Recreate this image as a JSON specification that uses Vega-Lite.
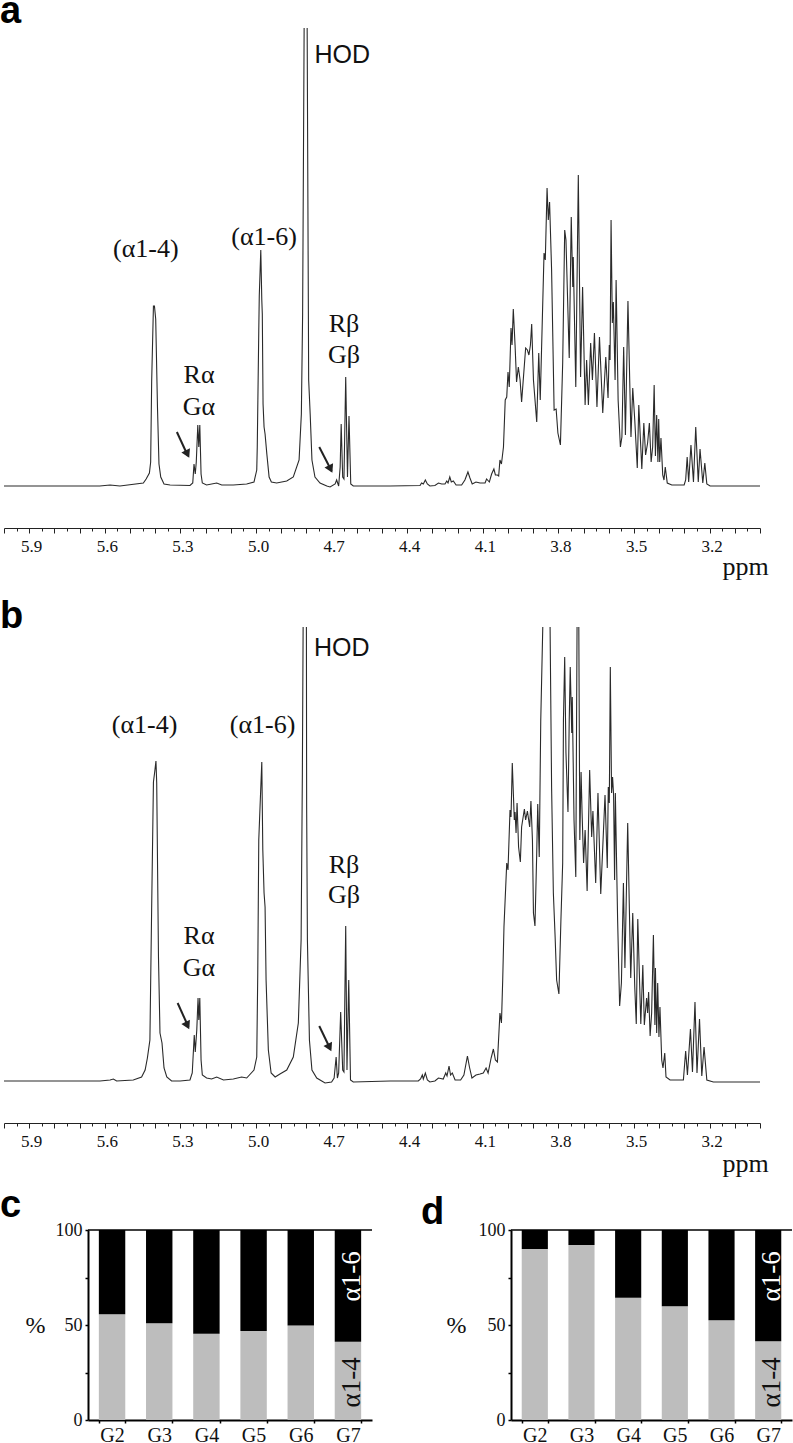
{"$schema":"https://vega.github.io/schema/vega-lite/v6.json","background":"white","padding":{"left":0,"top":-7,"right":0,"bottom":0},"config":{"view":{"stroke":null}},
"datasets":{
"specA":[{"ppm":6.0,"i":0},{"ppm":5.9,"i":0},{"ppm":5.75,"i":0},{"ppm":5.62,"i":0},{"ppm":5.579,"i":1},{"ppm":5.54,"i":0},{"ppm":5.447,"i":3},{"ppm":5.436,"i":7},{"ppm":5.423,"i":13},{"ppm":5.418,"i":24},{"ppm":5.414,"i":105},{"ppm":5.407,"i":180},{"ppm":5.403,"i":180},{"ppm":5.398,"i":167},{"ppm":5.391,"i":79},{"ppm":5.385,"i":22},{"ppm":5.378,"i":9},{"ppm":5.365,"i":2},{"ppm":5.341,"i":1},{"ppm":5.262,"i":0.5},{"ppm":5.251,"i":3},{"ppm":5.246,"i":22},{"ppm":5.241,"i":12},{"ppm":5.237,"i":24},{"ppm":5.231,"i":61},{"ppm":5.227,"i":39},{"ppm":5.223,"i":61},{"ppm":5.218,"i":12},{"ppm":5.213,"i":3},{"ppm":5.196,"i":1},{"ppm":5.156,"i":3},{"ppm":5.136,"i":1},{"ppm":5.09,"i":1},{"ppm":5.037,"i":2},{"ppm":5.008,"i":4},{"ppm":4.997,"i":16},{"ppm":4.995,"i":39},{"ppm":4.989,"i":155},{"ppm":4.987,"i":190},{"ppm":4.981,"i":236},{"ppm":4.977,"i":186},{"ppm":4.975,"i":172},{"ppm":4.972,"i":82},{"ppm":4.968,"i":59},{"ppm":4.964,"i":52},{"ppm":4.957,"i":32},{"ppm":4.948,"i":9},{"ppm":4.939,"i":4},{"ppm":4.918,"i":3},{"ppm":4.878,"i":5},{"ppm":4.852,"i":9},{"ppm":4.829,"i":26},{"ppm":4.82,"i":72},{"ppm":4.815,"i":172},{"ppm":4.809,"i":458},{"ppm":4.803,"i":null},{"ppm":4.797,"i":458},{"ppm":4.791,"i":106},{"ppm":4.785,"i":72},{"ppm":4.778,"i":26},{"ppm":4.766,"i":9},{"ppm":4.746,"i":3},{"ppm":4.719,"i":0},{"ppm":4.706,"i":-1},{"ppm":4.686,"i":2},{"ppm":4.68,"i":6},{"ppm":4.672,"i":0},{"ppm":4.666,"i":19},{"ppm":4.662,"i":62},{"ppm":4.656,"i":9},{"ppm":4.651,"i":7},{"ppm":4.644,"i":109},{"ppm":4.637,"i":9},{"ppm":4.631,"i":70},{"ppm":4.624,"i":2},{"ppm":4.614,"i":0},{"ppm":4.468,"i":0},{"ppm":4.349,"i":0.5},{"ppm":4.343,"i":3},{"ppm":4.336,"i":2},{"ppm":4.328,"i":6},{"ppm":4.32,"i":2},{"ppm":4.31,"i":0},{"ppm":4.29,"i":0.5},{"ppm":4.276,"i":3},{"ppm":4.263,"i":2},{"ppm":4.25,"i":2},{"ppm":4.243,"i":5},{"ppm":4.238,"i":3},{"ppm":4.231,"i":9},{"ppm":4.225,"i":4},{"ppm":4.217,"i":5},{"ppm":4.206,"i":1},{"ppm":4.184,"i":1},{"ppm":4.171,"i":6},{"ppm":4.159,"i":14},{"ppm":4.151,"i":8},{"ppm":4.142,"i":2},{"ppm":4.127,"i":4},{"ppm":4.111,"i":3},{"ppm":4.091,"i":3},{"ppm":4.085,"i":7},{"ppm":4.074,"i":4},{"ppm":4.065,"i":12},{"ppm":4.056,"i":17},{"ppm":4.05,"i":11},{"ppm":4.042,"i":11},{"ppm":4.037,"i":10},{"ppm":4.032,"i":26},{"ppm":4.026,"i":22},{"ppm":4.018,"i":39},{"ppm":4.011,"i":86},{"ppm":4.005,"i":89},{"ppm":4.0,"i":114},{"ppm":3.995,"i":99},{"ppm":3.988,"i":158},{"ppm":3.984,"i":141},{"ppm":3.979,"i":177},{"ppm":3.972,"i":141},{"ppm":3.966,"i":104},{"ppm":3.959,"i":119},{"ppm":3.952,"i":106},{"ppm":3.946,"i":84},{"ppm":3.93,"i":138},{"ppm":3.923,"i":136},{"ppm":3.917,"i":131},{"ppm":3.911,"i":141},{"ppm":3.906,"i":162},{"ppm":3.899,"i":106},{"ppm":3.886,"i":64},{"ppm":3.878,"i":133},{"ppm":3.872,"i":86},{"ppm":3.857,"i":233},{"ppm":3.852,"i":226},{"ppm":3.845,"i":298},{"ppm":3.84,"i":266},{"ppm":3.835,"i":284},{"ppm":3.827,"i":216},{"ppm":3.817,"i":76},{"ppm":3.809,"i":77},{"ppm":3.802,"i":53},{"ppm":3.792,"i":41},{"ppm":3.783,"i":123},{"ppm":3.775,"i":256},{"ppm":3.77,"i":246},{"ppm":3.757,"i":128},{"ppm":3.749,"i":269},{"ppm":3.743,"i":199},{"ppm":3.741,"i":229},{"ppm":3.731,"i":99},{"ppm":3.721,"i":311},{"ppm":3.712,"i":109},{"ppm":3.704,"i":199},{"ppm":3.694,"i":81},{"ppm":3.688,"i":126},{"ppm":3.681,"i":81},{"ppm":3.672,"i":143},{"ppm":3.665,"i":106},{"ppm":3.657,"i":153},{"ppm":3.647,"i":79},{"ppm":3.637,"i":149},{"ppm":3.624,"i":73},{"ppm":3.612,"i":129},{"ppm":3.603,"i":88},{"ppm":3.598,"i":141},{"ppm":3.595,"i":126},{"ppm":3.591,"i":266},{"ppm":3.586,"i":163},{"ppm":3.582,"i":184},{"ppm":3.575,"i":106},{"ppm":3.571,"i":206},{"ppm":3.563,"i":86},{"ppm":3.554,"i":39},{"ppm":3.548,"i":49},{"ppm":3.541,"i":139},{"ppm":3.534,"i":51},{"ppm":3.524,"i":185},{"ppm":3.512,"i":49},{"ppm":3.505,"i":98},{"ppm":3.497,"i":66},{"ppm":3.487,"i":18},{"ppm":3.481,"i":81},{"ppm":3.469,"i":17},{"ppm":3.461,"i":63},{"ppm":3.454,"i":31},{"ppm":3.446,"i":43},{"ppm":3.439,"i":63},{"ppm":3.432,"i":24},{"ppm":3.426,"i":39},{"ppm":3.42,"i":101},{"ppm":3.415,"i":30},{"ppm":3.41,"i":71},{"ppm":3.405,"i":24},{"ppm":3.402,"i":67},{"ppm":3.398,"i":24},{"ppm":3.393,"i":48},{"ppm":3.386,"i":11},{"ppm":3.381,"i":6},{"ppm":3.376,"i":19},{"ppm":3.368,"i":3},{"ppm":3.35,"i":1},{"ppm":3.301,"i":1},{"ppm":3.295,"i":6},{"ppm":3.289,"i":29},{"ppm":3.283,"i":4},{"ppm":3.274,"i":41},{"ppm":3.264,"i":4},{"ppm":3.255,"i":59},{"ppm":3.245,"i":4},{"ppm":3.238,"i":37},{"ppm":3.227,"i":3},{"ppm":3.219,"i":23},{"ppm":3.211,"i":2},{"ppm":3.198,"i":0},{"ppm":3.0,"i":0}],
"specB":[{"ppm":6.0,"i":0},{"ppm":5.85,"i":0},{"ppm":5.7,"i":0},{"ppm":5.619,"i":0},{"ppm":5.579,"i":1},{"ppm":5.566,"i":2},{"ppm":5.553,"i":0},{"ppm":5.487,"i":1},{"ppm":5.454,"i":4},{"ppm":5.44,"i":11},{"ppm":5.431,"i":23},{"ppm":5.421,"i":41},{"ppm":5.414,"i":174},{"ppm":5.407,"i":299},{"ppm":5.402,"i":309},{"ppm":5.397,"i":320},{"ppm":5.394,"i":298},{"ppm":5.387,"i":124},{"ppm":5.381,"i":48},{"ppm":5.373,"i":38},{"ppm":5.365,"i":13},{"ppm":5.354,"i":4},{"ppm":5.335,"i":0},{"ppm":5.301,"i":0},{"ppm":5.262,"i":1},{"ppm":5.253,"i":8},{"ppm":5.245,"i":46},{"ppm":5.241,"i":29},{"ppm":5.235,"i":51},{"ppm":5.23,"i":83},{"ppm":5.227,"i":61},{"ppm":5.223,"i":83},{"ppm":5.218,"i":21},{"ppm":5.213,"i":6},{"ppm":5.196,"i":3},{"ppm":5.176,"i":2},{"ppm":5.156,"i":4},{"ppm":5.129,"i":1},{"ppm":5.09,"i":2},{"ppm":5.057,"i":4},{"ppm":5.037,"i":3},{"ppm":5.008,"i":11},{"ppm":4.997,"i":24},{"ppm":4.993,"i":108},{"ppm":4.989,"i":241},{"ppm":4.984,"i":274},{"ppm":4.977,"i":319},{"ppm":4.973,"i":231},{"ppm":4.968,"i":188},{"ppm":4.964,"i":174},{"ppm":4.96,"i":101},{"ppm":4.951,"i":31},{"ppm":4.94,"i":8},{"ppm":4.924,"i":4},{"ppm":4.905,"i":7},{"ppm":4.878,"i":11},{"ppm":4.852,"i":24},{"ppm":4.832,"i":58},{"ppm":4.821,"i":141},{"ppm":4.816,"i":308},{"ppm":4.813,"i":454},{"ppm":4.806,"i":null},{"ppm":4.8,"i":454},{"ppm":4.799,"i":274},{"ppm":4.796,"i":141},{"ppm":4.788,"i":41},{"ppm":4.778,"i":11},{"ppm":4.759,"i":3},{"ppm":4.726,"i":-2},{"ppm":4.7,"i":-1},{"ppm":4.69,"i":3},{"ppm":4.682,"i":24},{"ppm":4.677,"i":3},{"ppm":4.672,"i":8},{"ppm":4.664,"i":69},{"ppm":4.656,"i":11},{"ppm":4.651,"i":9},{"ppm":4.644,"i":155},{"ppm":4.639,"i":11},{"ppm":4.632,"i":101},{"ppm":4.625,"i":1},{"ppm":4.614,"i":-1},{"ppm":4.468,"i":0},{"ppm":4.356,"i":0},{"ppm":4.347,"i":2},{"ppm":4.34,"i":6},{"ppm":4.336,"i":2},{"ppm":4.328,"i":8},{"ppm":4.32,"i":1},{"ppm":4.31,"i":-1},{"ppm":4.29,"i":0},{"ppm":4.276,"i":3},{"ppm":4.257,"i":2},{"ppm":4.247,"i":8},{"ppm":4.242,"i":5},{"ppm":4.234,"i":15},{"ppm":4.228,"i":6},{"ppm":4.221,"i":8},{"ppm":4.21,"i":1},{"ppm":4.188,"i":1},{"ppm":4.175,"i":6},{"ppm":4.161,"i":25},{"ppm":4.153,"i":14},{"ppm":4.143,"i":3},{"ppm":4.127,"i":6},{"ppm":4.111,"i":7},{"ppm":4.098,"i":8},{"ppm":4.087,"i":13},{"ppm":4.079,"i":8},{"ppm":4.067,"i":23},{"ppm":4.058,"i":32},{"ppm":4.05,"i":21},{"ppm":4.042,"i":19},{"ppm":4.032,"i":68},{"ppm":4.026,"i":58},{"ppm":4.021,"i":101},{"ppm":4.016,"i":154},{"ppm":4.005,"i":218},{"ppm":4.0,"i":211},{"ppm":3.992,"i":271},{"ppm":3.988,"i":264},{"ppm":3.983,"i":318},{"ppm":3.975,"i":261},{"ppm":3.972,"i":269},{"ppm":3.968,"i":248},{"ppm":3.964,"i":278},{"ppm":3.958,"i":234},{"ppm":3.951,"i":219},{"ppm":3.946,"i":254},{"ppm":3.935,"i":272},{"ppm":3.93,"i":261},{"ppm":3.923,"i":270},{"ppm":3.914,"i":254},{"ppm":3.909,"i":280},{"ppm":3.903,"i":241},{"ppm":3.899,"i":168},{"ppm":3.893,"i":155},{"ppm":3.886,"i":228},{"ppm":3.882,"i":277},{"ppm":3.876,"i":224},{"ppm":3.87,"i":361},{"ppm":3.862,"i":454},{"ppm":3.848,"i":null},{"ppm":3.833,"i":454},{"ppm":3.827,"i":294},{"ppm":3.82,"i":188},{"ppm":3.813,"i":144},{"ppm":3.807,"i":101},{"ppm":3.798,"i":87},{"ppm":3.79,"i":161},{"ppm":3.783,"i":218},{"ppm":3.78,"i":361},{"ppm":3.775,"i":424},{"ppm":3.77,"i":328},{"ppm":3.762,"i":269},{"ppm":3.757,"i":361},{"ppm":3.753,"i":414},{"ppm":3.747,"i":348},{"ppm":3.745,"i":384},{"ppm":3.738,"i":261},{"ppm":3.731,"i":204},{"ppm":3.726,"i":454},{"ppm":3.722,"i":null},{"ppm":3.719,"i":454},{"ppm":3.715,"i":241},{"ppm":3.71,"i":309},{"ppm":3.706,"i":268},{"ppm":3.7,"i":218},{"ppm":3.694,"i":251},{"ppm":3.686,"i":190},{"ppm":3.676,"i":311},{"ppm":3.668,"i":244},{"ppm":3.663,"i":270},{"ppm":3.652,"i":198},{"ppm":3.643,"i":288},{"ppm":3.632,"i":187},{"ppm":3.615,"i":286},{"ppm":3.606,"i":213},{"ppm":3.602,"i":294},{"ppm":3.598,"i":278},{"ppm":3.594,"i":414},{"ppm":3.589,"i":288},{"ppm":3.585,"i":304},{"ppm":3.581,"i":286},{"ppm":3.577,"i":201},{"ppm":3.574,"i":288},{"ppm":3.565,"i":161},{"ppm":3.557,"i":75},{"ppm":3.55,"i":98},{"ppm":3.542,"i":198},{"ppm":3.536,"i":113},{"ppm":3.525,"i":258},{"ppm":3.513,"i":103},{"ppm":3.505,"i":168},{"ppm":3.497,"i":94},{"ppm":3.491,"i":57},{"ppm":3.485,"i":162},{"ppm":3.473,"i":57},{"ppm":3.465,"i":116},{"ppm":3.459,"i":56},{"ppm":3.45,"i":83},{"ppm":3.446,"i":68},{"ppm":3.442,"i":89},{"ppm":3.436,"i":45},{"ppm":3.43,"i":68},{"ppm":3.423,"i":146},{"ppm":3.417,"i":56},{"ppm":3.415,"i":113},{"ppm":3.41,"i":48},{"ppm":3.406,"i":98},{"ppm":3.401,"i":44},{"ppm":3.397,"i":74},{"ppm":3.39,"i":21},{"ppm":3.385,"i":13},{"ppm":3.378,"i":28},{"ppm":3.373,"i":4},{"ppm":3.357,"i":1},{"ppm":3.304,"i":1},{"ppm":3.295,"i":30},{"ppm":3.288,"i":6},{"ppm":3.276,"i":52},{"ppm":3.268,"i":9},{"ppm":3.258,"i":79},{"ppm":3.25,"i":8},{"ppm":3.24,"i":62},{"ppm":3.231,"i":5},{"ppm":3.222,"i":34},{"ppm":3.211,"i":1},{"ppm":3.185,"i":-1},{"ppm":3.0,"i":-1}],
"arrowsA":[{"ppm":5.314,"i":54,"ppm2":5.27,"i2":30,"hx":5.272,"hy":32},{"ppm":4.749,"i":39,"ppm2":4.70,"i2":15,"hx":4.704,"hy":17}],
"arrowsB":[{"ppm":5.311,"i":78,"ppm2":5.268,"i2":54,"hx":5.272,"hy":55.5},{"ppm":4.749,"i":55,"ppm2":4.705,"i2":32,"hx":4.708,"hy":33.5}],
"textA":[{"ppm":5.437,"i":229,"t":"(α1-4)"},{"ppm":4.968,"i":241,"t":"(α1-6)"},{"ppm":5.226,"i":103,"t":"Rα"},{"ppm":5.226,"i":71,"t":"Gα"},{"ppm":4.651,"i":154,"t":"Rβ"},{"ppm":4.651,"i":123,"t":"Gβ"},{"ppm":3.057,"i":-89,"t":"ppm"}],
"textB":[{"ppm":5.442,"i":348,"t":"(α1-4)"},{"ppm":4.974,"i":348,"t":"(α1-6)"},{"ppm":5.226,"i":137,"t":"Rα"},{"ppm":5.226,"i":105,"t":"Gα"},{"ppm":4.651,"i":208,"t":"Rβ"},{"ppm":4.651,"i":178,"t":"Gβ"},{"ppm":3.057,"i":-91,"t":"ppm"}],
"hodA":[{"ppm":4.768,"i":423,"t":"HOD"}],
"hodB":[{"ppm":4.77,"i":425,"t":"HOD"}],
"barsC":[{"g":"G2","series":"α1-4","pct":55.6,"o":1},{"g":"G2","series":"α1-6","pct":44.4,"o":2},{"g":"G3","series":"α1-4","pct":50.9,"o":1},{"g":"G3","series":"α1-6","pct":49.1,"o":2},{"g":"G4","series":"α1-4","pct":45.4,"o":1},{"g":"G4","series":"α1-6","pct":54.6,"o":2},{"g":"G5","series":"α1-4","pct":46.8,"o":1},{"g":"G5","series":"α1-6","pct":53.2,"o":2},{"g":"G6","series":"α1-4","pct":49.8,"o":1},{"g":"G6","series":"α1-6","pct":50.2,"o":2},{"g":"G7","series":"α1-4","pct":41.2,"o":1},{"g":"G7","series":"α1-6","pct":58.8,"o":2}],
"barsD":[{"g":"G2","series":"α1-4","pct":90,"o":1},{"g":"G2","series":"α1-6","pct":10,"o":2},{"g":"G3","series":"α1-4","pct":92.1,"o":1},{"g":"G3","series":"α1-6","pct":7.9,"o":2},{"g":"G4","series":"α1-4","pct":64.4,"o":1},{"g":"G4","series":"α1-6","pct":35.6,"o":2},{"g":"G5","series":"α1-4","pct":59.9,"o":1},{"g":"G5","series":"α1-6","pct":40.1,"o":2},{"g":"G6","series":"α1-4","pct":52.5,"o":1},{"g":"G6","series":"α1-6","pct":47.5,"o":2},{"g":"G7","series":"α1-4","pct":41.5,"o":1},{"g":"G7","series":"α1-6","pct":58.5,"o":2}],
"barLabels":[{"g":"G7","y":75.6,"t":"α1-6","c":"white"},{"g":"G7","y":19.8,"t":"α1-4","c":"#111111"}],
"top":[{"y":100}]
},
"vconcat":[
{"vconcat":[
{"title":{"text":"a","anchor":"start","frame":"group","dx":-4,"offset":-33,"baseline":"alphabetic","font":"Liberation Sans","fontSize":38,"fontWeight":"bold","color":"#000000"},
"width":756,"height":500,
"layer":[
{"data":{"name":"specA"},"mark":{"type":"line","clip":true,"color":"#2a2a2a","strokeWidth":1.1},"encoding":{"x":{"field":"ppm","type":"quantitative","sort":null,"scale":{"domain":[6,3],"nice":false,"zero":false},"axis":{"orient":"bottom","values":[6,5.9,5.8,5.7,5.6,5.5,5.4,5.3,5.2,5.1,5,4.9,4.8,4.7,4.6,4.5,4.4,4.3,4.2,4.1,4,3.9,3.8,3.7,3.6,3.5,3.4,3.3,3.2,3.1,3],"labelExpr":"indexof(['5.9','5.6','5.3','5.0','4.7','4.4','4.1','3.8','3.5','3.2'],format(datum.value,'.1f'))>=0?format(datum.value,'.1f'):''","title":null,"grid":false,"tickSize":5,"tickColor":"#222222","domainColor":"#222222","labelFont":"Liberation Serif","labelFontSize":17,"labelColor":"#111111","labelPadding":5,"labelOffset":2,"labelOverlap":false,"labelFlush":false}},"y":{"field":"i","type":"quantitative","scale":{"domain":[-42,458],"nice":false,"zero":false},"axis":null},"order":{"value":null}}},
{"data":{"name":"arrowsA"},"mark":{"type":"rule","color":"#222222","strokeWidth":2},"encoding":{"x":{"field":"ppm","type":"quantitative","scale":{"domain":[6,3],"nice":false,"zero":false},"axis":{"orient":"bottom","values":[5.95,5.85,5.75,5.65,5.55,5.45,5.35,5.25,5.15,5.05,4.95,4.85,4.75,4.65,4.55,4.45,4.35,4.25,4.15,4.05,3.95,3.85,3.75,3.65,3.55,3.45,3.35,3.25,3.15,3.05],"labels":false,"domain":false,"title":null,"grid":false,"tickSize":3,"tickColor":"#222222"}},"x2":{"field":"ppm2"},"y":{"field":"i","type":"quantitative","scale":{"domain":[-42,458],"nice":false,"zero":false},"axis":null},"y2":{"field":"i2"}}},
{"data":{"name":"arrowsA"},"mark":{"type":"point","shape":"triangle-up","filled":true,"color":"#222222","size":90,"angle":154,"opacity":1},"encoding":{"x":{"field":"hx","type":"quantitative","axis":null,"scale":{"domain":[6,3],"nice":false,"zero":false}},"y":{"field":"hy","type":"quantitative","axis":null,"scale":{"domain":[-42,458],"nice":false,"zero":false}}}},
{"data":{"name":"textA"},"mark":{"type":"text","font":"Liberation Serif","fontSize":26,"color":"#111111","baseline":"alphabetic"},"encoding":{"x":{"field":"ppm","type":"quantitative","axis":null,"scale":{"domain":[6,3],"nice":false,"zero":false}},"y":{"field":"i","type":"quantitative","axis":null,"scale":{"domain":[-42,458],"nice":false,"zero":false}},"text":{"field":"t"}}},
{"data":{"name":"hodA"},"mark":{"type":"text","font":"Liberation Sans","fontSize":25,"color":"#111111","baseline":"alphabetic","align":"left"},"encoding":{"x":{"field":"ppm","type":"quantitative","axis":null,"scale":{"domain":[6,3],"nice":false,"zero":false}},"y":{"field":"i","type":"quantitative","axis":null,"scale":{"domain":[-42,458],"nice":false,"zero":false}},"text":{"field":"t"}}}
],"resolve":{"axis":{"x":"independent"}}},
{"title":{"text":"b","anchor":"start","frame":"group","dx":-4,"offset":-39,"baseline":"alphabetic","font":"Liberation Sans","fontSize":38,"fontWeight":"bold","color":"#000000"},
"width":756,"height":496,
"layer":[
{"data":{"name":"specB"},"mark":{"type":"line","clip":true,"color":"#2a2a2a","strokeWidth":1.1},"encoding":{"x":{"field":"ppm","type":"quantitative","sort":null,"scale":{"domain":[6,3],"nice":false,"zero":false},"axis":{"orient":"bottom","values":[6,5.9,5.8,5.7,5.6,5.5,5.4,5.3,5.2,5.1,5,4.9,4.8,4.7,4.6,4.5,4.4,4.3,4.2,4.1,4,3.9,3.8,3.7,3.6,3.5,3.4,3.3,3.2,3.1,3],"labelExpr":"indexof(['5.9','5.6','5.3','5.0','4.7','4.4','4.1','3.8','3.5','3.2'],format(datum.value,'.1f'))>=0?format(datum.value,'.1f'):''","title":null,"grid":false,"tickSize":5,"tickColor":"#222222","domainColor":"#222222","labelFont":"Liberation Serif","labelFontSize":17,"labelColor":"#111111","labelPadding":5,"labelOffset":2,"labelOverlap":false,"labelFlush":false}},"y":{"field":"i","type":"quantitative","scale":{"domain":[-42,454],"nice":false,"zero":false},"axis":null},"order":{"value":null}}},
{"data":{"name":"arrowsB"},"mark":{"type":"rule","color":"#222222","strokeWidth":2},"encoding":{"x":{"field":"ppm","type":"quantitative","scale":{"domain":[6,3],"nice":false,"zero":false},"axis":{"orient":"bottom","values":[5.95,5.85,5.75,5.65,5.55,5.45,5.35,5.25,5.15,5.05,4.95,4.85,4.75,4.65,4.55,4.45,4.35,4.25,4.15,4.05,3.95,3.85,3.75,3.65,3.55,3.45,3.35,3.25,3.15,3.05],"labels":false,"domain":false,"title":null,"grid":false,"tickSize":3,"tickColor":"#222222"}},"x2":{"field":"ppm2"},"y":{"field":"i","type":"quantitative","scale":{"domain":[-42,454],"nice":false,"zero":false},"axis":null},"y2":{"field":"i2"}}},
{"data":{"name":"arrowsB"},"mark":{"type":"point","shape":"triangle-up","filled":true,"color":"#222222","size":90,"angle":154,"opacity":1},"encoding":{"x":{"field":"hx","type":"quantitative","axis":null,"scale":{"domain":[6,3],"nice":false,"zero":false}},"y":{"field":"hy","type":"quantitative","axis":null,"scale":{"domain":[-42,454],"nice":false,"zero":false}}}},
{"data":{"name":"textB"},"mark":{"type":"text","font":"Liberation Serif","fontSize":26,"color":"#111111","baseline":"alphabetic"},"encoding":{"x":{"field":"ppm","type":"quantitative","axis":null,"scale":{"domain":[6,3],"nice":false,"zero":false}},"y":{"field":"i","type":"quantitative","axis":null,"scale":{"domain":[-42,454],"nice":false,"zero":false}},"text":{"field":"t"}}},
{"data":{"name":"hodB"},"mark":{"type":"text","font":"Liberation Sans","fontSize":25,"color":"#111111","baseline":"alphabetic","align":"left"},"encoding":{"x":{"field":"ppm","type":"quantitative","axis":null,"scale":{"domain":[6,3],"nice":false,"zero":false}},"y":{"field":"i","type":"quantitative","axis":null,"scale":{"domain":[-42,454],"nice":false,"zero":false}},"text":{"field":"t"}}}
],"resolve":{"axis":{"x":"independent"}}}
],"spacing":18,"resolve":{"scale":{"x":"independent","y":"independent"}}},
{"hconcat":[
{"title":{"text":"c","anchor":"start","frame":"group","dx":-4,"offset":-25,"baseline":"alphabetic","font":"Liberation Sans","fontSize":38,"fontWeight":"bold","color":"#000000"},"width":21,"height":190,"data":{"name":"top"},"mark":{"type":"text","text":""},"encoding":{}},
{"hconcat":[
{"width":284,"height":190,
"layer":[
{"data":{"name":"barsC"},"mark":{"type":"bar"},"encoding":{"x":{"field":"g","type":"nominal","scale":{"paddingInner":0.44,"paddingOuter":0.23},"axis":{"title":null,"labelAngle":0,"tickBand":"extent","tickSize":3,"tickWidth":1.5,"domainWidth":2,"domainColor":"#000000","tickColor":"#000000","labelFont":"Liberation Serif","labelFontSize":20,"labelColor":"#111111","labelPadding":2}},"y":{"field":"pct","type":"quantitative","stack":"zero","scale":{"domain":[0,100],"nice":false},"axis":{"title":"%","titleAngle":0,"titleFont":"Liberation Serif","titleFontSize":24,"titleFontWeight":"normal","titleColor":"#111111","titleAlign":"center","titleBaseline":"middle","titleX":-53,"titleY":95,"values":[0,25,50,75,100],"labelExpr":"datum.value%50==0?datum.label:''","grid":false,"tickSize":3,"tickWidth":1.5,"domainWidth":2,"domainColor":"#000000","tickColor":"#000000","labelFont":"Liberation Serif","labelFontSize":18,"labelColor":"#111111","labelPadding":3}},"color":{"field":"series","type":"nominal","scale":{"domain":["α1-4","α1-6"],"range":["#bdbdbd","#000000"]},"legend":null},"order":{"field":"o"}}},
{"data":{"name":"top"},"mark":{"type":"rule","color":"#000000","strokeWidth":1.5},"encoding":{"y":{"field":"y","type":"quantitative","scale":{"domain":[0,100],"nice":false}}}},
{"data":{"name":"barLabels"},"mark":{"type":"text","font":"Liberation Serif","fontSize":27,"angle":270,"align":"center","baseline":"middle","dy":4},"encoding":{"x":{"field":"g","type":"nominal","scale":{"paddingInner":0.44,"paddingOuter":0.23}},"y":{"field":"y","type":"quantitative","scale":{"domain":[0,100],"nice":false}},"text":{"field":"t"},"color":{"field":"c","type":"nominal","scale":null}}}
]},
{"title":{"text":"d","anchor":"start","frame":"group","dx":-90,"offset":-41,"baseline":"alphabetic","font":"Liberation Sans","fontSize":38,"fontWeight":"bold","color":"#000000"},
"width":281,"height":190,
"layer":[
{"data":{"name":"barsD"},"mark":{"type":"bar"},"encoding":{"x":{"field":"g","type":"nominal","scale":{"paddingInner":0.44,"paddingOuter":0.23},"axis":{"title":null,"labelAngle":0,"tickBand":"extent","tickSize":3,"tickWidth":1.5,"domainWidth":2,"domainColor":"#000000","tickColor":"#000000","labelFont":"Liberation Serif","labelFontSize":20,"labelColor":"#111111","labelPadding":2}},"y":{"field":"pct","type":"quantitative","stack":"zero","scale":{"domain":[0,100],"nice":false},"axis":{"title":"%","titleAngle":0,"titleFont":"Liberation Serif","titleFontSize":24,"titleFontWeight":"normal","titleColor":"#111111","titleAlign":"center","titleBaseline":"middle","titleX":-55,"titleY":95,"values":[0,25,50,75,100],"labelExpr":"datum.value%50==0?datum.label:''","grid":false,"tickSize":3,"tickWidth":1.5,"domainWidth":2,"domainColor":"#000000","tickColor":"#000000","labelFont":"Liberation Serif","labelFontSize":18,"labelColor":"#111111","labelPadding":3}},"color":{"field":"series","type":"nominal","scale":{"domain":["α1-4","α1-6"],"range":["#bdbdbd","#000000"]},"legend":null},"order":{"field":"o"}}},
{"data":{"name":"top"},"mark":{"type":"rule","color":"#000000","strokeWidth":1.5},"encoding":{"y":{"field":"y","type":"quantitative","scale":{"domain":[0,100],"nice":false}}}},
{"data":{"name":"barLabels"},"mark":{"type":"text","font":"Liberation Serif","fontSize":27,"angle":270,"align":"center","baseline":"middle","dy":4},"encoding":{"x":{"field":"g","type":"nominal","scale":{"paddingInner":0.44,"paddingOuter":0.23}},"y":{"field":"y","type":"quantitative","scale":{"domain":[0,100],"nice":false}},"text":{"field":"t"},"color":{"field":"c","type":"nominal","scale":null}}}
]}
],"spacing":48,"resolve":{"scale":{"x":"independent","y":"independent","color":"independent"}}}
],"spacing":0}
],"spacing":10,"resolve":{"scale":{"x":"independent","y":"independent"}}}
